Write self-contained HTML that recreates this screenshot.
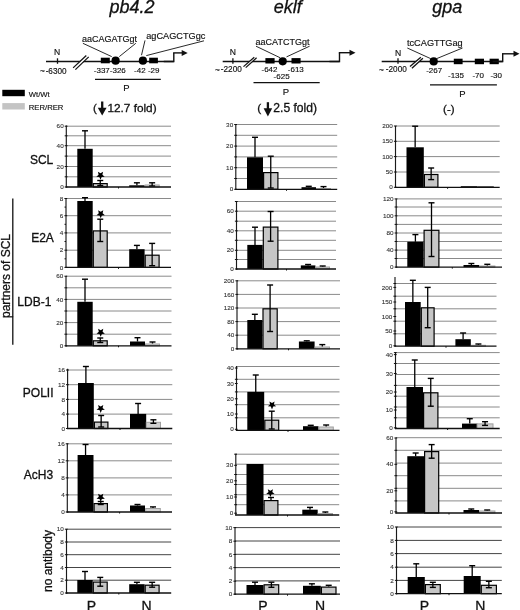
<!DOCTYPE html>
<html><head><meta charset="utf-8"><title>Figure</title>
<style>html,body{margin:0;padding:0;background:#fff;width:520px;height:610px;overflow:hidden;font-family:"Liberation Sans", sans-serif;}svg{display:block;filter:grayscale(1);}</style>
</head><body>
<svg width="520" height="610" viewBox="0 0 520 610" font-family='"Liberation Sans", sans-serif'>
<rect width="520" height="610" fill="#fff"/>
<line x1="66.3" y1="126.2" x2="171" y2="126.2" stroke="#8a8a8a" stroke-width="1.0"/>
<line x1="66.3" y1="135.8" x2="171" y2="135.8" stroke="#8a8a8a" stroke-width="1.0"/>
<line x1="66.3" y1="145.7" x2="171" y2="145.7" stroke="#8a8a8a" stroke-width="1.0"/>
<line x1="66.3" y1="156.1" x2="171" y2="156.1" stroke="#8a8a8a" stroke-width="1.0"/>
<line x1="66.3" y1="166.5" x2="171" y2="166.5" stroke="#8a8a8a" stroke-width="1.0"/>
<line x1="66.3" y1="176.8" x2="171" y2="176.8" stroke="#8a8a8a" stroke-width="1.0"/>
<rect x="77.3" y="148.8" width="15.4" height="38.2" fill="#000"/>
<rect x="93.3" y="183.6" width="13.9" height="3.4" fill="#c6c6c6" stroke="#000" stroke-width="1.2"/>
<rect x="129.2" y="185.3" width="15.4" height="1.7" fill="#000"/>
<rect x="145.1" y="185" width="14.1" height="2" fill="#d0d0d0" stroke="#a0a0a0" stroke-width="1"/>
<line x1="85" y1="130.8" x2="85" y2="148.8" stroke="#000" stroke-width="1.3"/>
<line x1="82" y1="130.8" x2="88" y2="130.8" stroke="#000" stroke-width="1.4"/>
<line x1="100.25" y1="180.5" x2="100.25" y2="185.5" stroke="#000" stroke-width="1.3"/>
<line x1="97.25" y1="180.5" x2="103.25" y2="180.5" stroke="#000" stroke-width="1.4"/>
<line x1="97.25" y1="185.5" x2="103.25" y2="185.5" stroke="#000" stroke-width="1.4"/>
<line x1="136.9" y1="182.8" x2="136.9" y2="185.3" stroke="#000" stroke-width="1.3"/>
<line x1="133.9" y1="182.8" x2="139.9" y2="182.8" stroke="#000" stroke-width="1.4"/>
<line x1="152.15" y1="182.8" x2="152.15" y2="186" stroke="#000" stroke-width="1.3"/>
<line x1="149.15" y1="182.8" x2="155.15" y2="182.8" stroke="#000" stroke-width="1.4"/>
<line x1="149.15" y1="186" x2="155.15" y2="186" stroke="#000" stroke-width="1.4"/>
<polygon points="100.5,179.7 99.32,176.92 96.32,176.66 98.6,174.68 97.91,171.74 100.5,173.3 103.09,171.74 102.4,174.68 104.68,176.66 101.68,176.92" fill="#000"/>
<line x1="66.3" y1="125.5" x2="66.3" y2="187.6" stroke="#1a1a1a" stroke-width="1.15"/>
<line x1="65.7" y1="187" x2="171" y2="187" stroke="#111" stroke-width="1.3"/>
<line x1="64.7" y1="126.2" x2="67.5" y2="126.2" stroke="#111" stroke-width="1"/>
<text transform="translate(63.7,128.3) scale(1.12,1)" font-size="5.7" text-anchor="end" fill="#333" stroke="#333" stroke-width="0.1">60</text>
<line x1="64.7" y1="145.7" x2="67.5" y2="145.7" stroke="#111" stroke-width="1"/>
<text transform="translate(63.7,147.8) scale(1.12,1)" font-size="5.7" text-anchor="end" fill="#333" stroke="#333" stroke-width="0.1">40</text>
<line x1="64.7" y1="166.5" x2="67.5" y2="166.5" stroke="#111" stroke-width="1"/>
<text transform="translate(63.7,168.6) scale(1.12,1)" font-size="5.7" text-anchor="end" fill="#333" stroke="#333" stroke-width="0.1">20</text>
<line x1="64.7" y1="187" x2="67.5" y2="187" stroke="#111" stroke-width="1"/>
<text transform="translate(63.7,189.1) scale(1.12,1)" font-size="5.7" text-anchor="end" fill="#333" stroke="#333" stroke-width="0.1">0</text>
<line x1="64.7" y1="135.8" x2="67.5" y2="135.8" stroke="#111" stroke-width="1"/>
<line x1="64.7" y1="156.1" x2="67.5" y2="156.1" stroke="#111" stroke-width="1"/>
<line x1="64.7" y1="176.8" x2="67.5" y2="176.8" stroke="#111" stroke-width="1"/>
<line x1="118.5" y1="187" x2="118.5" y2="188.5" stroke="#111" stroke-width="1"/>
<line x1="235.8" y1="124.5" x2="337.2" y2="124.5" stroke="#8a8a8a" stroke-width="1.0"/>
<line x1="235.8" y1="135.3" x2="337.2" y2="135.3" stroke="#8a8a8a" stroke-width="1.0"/>
<line x1="235.8" y1="146.1" x2="337.2" y2="146.1" stroke="#8a8a8a" stroke-width="1.0"/>
<line x1="235.8" y1="156.9" x2="337.2" y2="156.9" stroke="#8a8a8a" stroke-width="1.0"/>
<line x1="235.8" y1="167.7" x2="337.2" y2="167.7" stroke="#8a8a8a" stroke-width="1.0"/>
<line x1="235.8" y1="178.5" x2="337.2" y2="178.5" stroke="#8a8a8a" stroke-width="1.0"/>
<rect x="247" y="157.3" width="16" height="32" fill="#000"/>
<rect x="263.6" y="172.6" width="14.3" height="16.7" fill="#c6c6c6" stroke="#000" stroke-width="1.2"/>
<rect x="301.5" y="187.2" width="14.5" height="2.1" fill="#000"/>
<rect x="316.5" y="188.5" width="14" height="0.8" fill="#d0d0d0" stroke="#a0a0a0" stroke-width="1"/>
<line x1="255" y1="137.3" x2="255" y2="157.3" stroke="#000" stroke-width="1.3"/>
<line x1="252" y1="137.3" x2="258" y2="137.3" stroke="#000" stroke-width="1.4"/>
<line x1="270.75" y1="156.2" x2="270.75" y2="188" stroke="#000" stroke-width="1.3"/>
<line x1="267.75" y1="156.2" x2="273.75" y2="156.2" stroke="#000" stroke-width="1.4"/>
<line x1="267.75" y1="188" x2="273.75" y2="188" stroke="#000" stroke-width="1.4"/>
<line x1="308.75" y1="186.3" x2="308.75" y2="187.2" stroke="#000" stroke-width="1.3"/>
<line x1="305.75" y1="186.3" x2="311.75" y2="186.3" stroke="#000" stroke-width="1.4"/>
<line x1="323.5" y1="186.6" x2="323.5" y2="188" stroke="#000" stroke-width="1.3"/>
<line x1="320.5" y1="186.6" x2="326.5" y2="186.6" stroke="#000" stroke-width="1.4"/>
<line x1="235.8" y1="124.5" x2="235.8" y2="189.9" stroke="#1a1a1a" stroke-width="1.15"/>
<line x1="235.2" y1="189.3" x2="337.2" y2="189.3" stroke="#111" stroke-width="1.3"/>
<line x1="234.2" y1="124.5" x2="237" y2="124.5" stroke="#111" stroke-width="1"/>
<text transform="translate(233.2,126.6) scale(1.12,1)" font-size="5.7" text-anchor="end" fill="#333" stroke="#333" stroke-width="0.1">30</text>
<line x1="234.2" y1="146.1" x2="237" y2="146.1" stroke="#111" stroke-width="1"/>
<text transform="translate(233.2,148.2) scale(1.12,1)" font-size="5.7" text-anchor="end" fill="#333" stroke="#333" stroke-width="0.1">20</text>
<line x1="234.2" y1="167.7" x2="237" y2="167.7" stroke="#111" stroke-width="1"/>
<text transform="translate(233.2,169.8) scale(1.12,1)" font-size="5.7" text-anchor="end" fill="#333" stroke="#333" stroke-width="0.1">10</text>
<line x1="234.2" y1="189.3" x2="237" y2="189.3" stroke="#111" stroke-width="1"/>
<text transform="translate(233.2,191.4) scale(1.12,1)" font-size="5.7" text-anchor="end" fill="#333" stroke="#333" stroke-width="0.1">0</text>
<line x1="234.2" y1="135.3" x2="237" y2="135.3" stroke="#111" stroke-width="1"/>
<line x1="234.2" y1="156.9" x2="237" y2="156.9" stroke="#111" stroke-width="1"/>
<line x1="234.2" y1="178.5" x2="237" y2="178.5" stroke="#111" stroke-width="1"/>
<line x1="286.5" y1="189.3" x2="286.5" y2="190.8" stroke="#111" stroke-width="1"/>
<line x1="395.5" y1="126" x2="499.7" y2="126" stroke="#8a8a8a" stroke-width="1.0"/>
<line x1="395.5" y1="141.3" x2="499.7" y2="141.3" stroke="#8a8a8a" stroke-width="1.0"/>
<line x1="395.5" y1="156.6" x2="499.7" y2="156.6" stroke="#8a8a8a" stroke-width="1.0"/>
<line x1="395.5" y1="172" x2="499.7" y2="172" stroke="#8a8a8a" stroke-width="1.0"/>
<rect x="406.5" y="147.3" width="17.3" height="40" fill="#000"/>
<rect x="424.4" y="174.5" width="13.5" height="12.8" fill="#c6c6c6" stroke="#000" stroke-width="1.2"/>
<rect x="460.8" y="186.2" width="16.5" height="1.1" fill="#000"/>
<rect x="477.3" y="186.4" width="16.5" height="0.9" fill="#000"/>
<line x1="415.15" y1="126.2" x2="415.15" y2="147.3" stroke="#000" stroke-width="1.3"/>
<line x1="412.15" y1="126.2" x2="418.15" y2="126.2" stroke="#000" stroke-width="1.4"/>
<line x1="431.15" y1="168" x2="431.15" y2="179.6" stroke="#000" stroke-width="1.3"/>
<line x1="428.15" y1="168" x2="434.15" y2="168" stroke="#000" stroke-width="1.4"/>
<line x1="428.15" y1="179.6" x2="434.15" y2="179.6" stroke="#000" stroke-width="1.4"/>
<line x1="395.5" y1="126" x2="395.5" y2="187.9" stroke="#1a1a1a" stroke-width="1.15"/>
<line x1="394.9" y1="187.3" x2="499.7" y2="187.3" stroke="#111" stroke-width="1.3"/>
<line x1="393.9" y1="126" x2="396.7" y2="126" stroke="#111" stroke-width="1"/>
<text transform="translate(392.9,128.1) scale(1.12,1)" font-size="5.7" text-anchor="end" fill="#333" stroke="#333" stroke-width="0.1">200</text>
<line x1="393.9" y1="141.3" x2="396.7" y2="141.3" stroke="#111" stroke-width="1"/>
<text transform="translate(392.9,143.4) scale(1.12,1)" font-size="5.7" text-anchor="end" fill="#333" stroke="#333" stroke-width="0.1">150</text>
<line x1="393.9" y1="156.6" x2="396.7" y2="156.6" stroke="#111" stroke-width="1"/>
<text transform="translate(392.9,158.7) scale(1.12,1)" font-size="5.7" text-anchor="end" fill="#333" stroke="#333" stroke-width="0.1">100</text>
<line x1="393.9" y1="172" x2="396.7" y2="172" stroke="#111" stroke-width="1"/>
<text transform="translate(392.9,174.1) scale(1.12,1)" font-size="5.7" text-anchor="end" fill="#333" stroke="#333" stroke-width="0.1">50</text>
<line x1="393.9" y1="187.3" x2="396.7" y2="187.3" stroke="#111" stroke-width="1"/>
<text transform="translate(392.9,189.4) scale(1.12,1)" font-size="5.7" text-anchor="end" fill="#333" stroke="#333" stroke-width="0.1">0</text>
<line x1="447.6" y1="187.3" x2="447.6" y2="188.8" stroke="#111" stroke-width="1"/>
<line x1="66" y1="198.5" x2="171" y2="198.5" stroke="#8a8a8a" stroke-width="1.0"/>
<line x1="66" y1="215.7" x2="171" y2="215.7" stroke="#8a8a8a" stroke-width="1.0"/>
<line x1="66" y1="232.9" x2="171" y2="232.9" stroke="#8a8a8a" stroke-width="1.0"/>
<line x1="66" y1="250.2" x2="171" y2="250.2" stroke="#8a8a8a" stroke-width="1.0"/>
<rect x="77.3" y="201" width="15.4" height="66.4" fill="#000"/>
<rect x="93.3" y="230.9" width="13.9" height="36.5" fill="#c6c6c6" stroke="#000" stroke-width="1.2"/>
<rect x="129.2" y="249.2" width="15.4" height="18.2" fill="#000"/>
<rect x="145.2" y="255.2" width="13.9" height="12.2" fill="#c6c6c6" stroke="#000" stroke-width="1.2"/>
<line x1="85" y1="197.7" x2="85" y2="201" stroke="#000" stroke-width="1.3"/>
<line x1="82" y1="197.7" x2="88" y2="197.7" stroke="#000" stroke-width="1.4"/>
<line x1="100.25" y1="219.2" x2="100.25" y2="241.5" stroke="#000" stroke-width="1.3"/>
<line x1="97.25" y1="219.2" x2="103.25" y2="219.2" stroke="#000" stroke-width="1.4"/>
<line x1="97.25" y1="241.5" x2="103.25" y2="241.5" stroke="#000" stroke-width="1.4"/>
<line x1="136.9" y1="245.4" x2="136.9" y2="249.2" stroke="#000" stroke-width="1.3"/>
<line x1="133.9" y1="245.4" x2="139.9" y2="245.4" stroke="#000" stroke-width="1.4"/>
<line x1="152.15" y1="243.4" x2="152.15" y2="265.7" stroke="#000" stroke-width="1.3"/>
<line x1="149.15" y1="243.4" x2="155.15" y2="243.4" stroke="#000" stroke-width="1.4"/>
<line x1="149.15" y1="265.7" x2="155.15" y2="265.7" stroke="#000" stroke-width="1.4"/>
<polygon points="100.7,218.2 99.52,215.42 96.52,215.16 98.8,213.18 98.11,210.24 100.7,211.8 103.29,210.24 102.6,213.18 104.88,215.16 101.88,215.42" fill="#000"/>
<line x1="66" y1="198.5" x2="66" y2="268" stroke="#1a1a1a" stroke-width="1.15"/>
<line x1="65.4" y1="267.4" x2="171" y2="267.4" stroke="#111" stroke-width="1.3"/>
<line x1="64.4" y1="198.5" x2="67.2" y2="198.5" stroke="#111" stroke-width="1"/>
<text transform="translate(63.4,200.6) scale(1.12,1)" font-size="5.7" text-anchor="end" fill="#333" stroke="#333" stroke-width="0.1">8</text>
<line x1="64.4" y1="215.7" x2="67.2" y2="215.7" stroke="#111" stroke-width="1"/>
<text transform="translate(63.4,217.8) scale(1.12,1)" font-size="5.7" text-anchor="end" fill="#333" stroke="#333" stroke-width="0.1">6</text>
<line x1="64.4" y1="232.9" x2="67.2" y2="232.9" stroke="#111" stroke-width="1"/>
<text transform="translate(63.4,235) scale(1.12,1)" font-size="5.7" text-anchor="end" fill="#333" stroke="#333" stroke-width="0.1">4</text>
<line x1="64.4" y1="250.2" x2="67.2" y2="250.2" stroke="#111" stroke-width="1"/>
<text transform="translate(63.4,252.3) scale(1.12,1)" font-size="5.7" text-anchor="end" fill="#333" stroke="#333" stroke-width="0.1">2</text>
<line x1="64.4" y1="267.4" x2="67.2" y2="267.4" stroke="#111" stroke-width="1"/>
<text transform="translate(63.4,269.5) scale(1.12,1)" font-size="5.7" text-anchor="end" fill="#333" stroke="#333" stroke-width="0.1">0</text>
<line x1="64.5" y1="207.1" x2="66" y2="207.1" stroke="#111" stroke-width="1"/>
<line x1="64.5" y1="224.3" x2="66" y2="224.3" stroke="#111" stroke-width="1"/>
<line x1="64.5" y1="241.5" x2="66" y2="241.5" stroke="#111" stroke-width="1"/>
<line x1="64.5" y1="258.8" x2="66" y2="258.8" stroke="#111" stroke-width="1"/>
<line x1="118.5" y1="267.4" x2="118.5" y2="268.9" stroke="#111" stroke-width="1"/>
<line x1="236.5" y1="201.5" x2="336" y2="201.5" stroke="#8a8a8a" stroke-width="1.0"/>
<line x1="236.5" y1="211.2" x2="336" y2="211.2" stroke="#8a8a8a" stroke-width="1.0"/>
<line x1="236.5" y1="221.2" x2="336" y2="221.2" stroke="#8a8a8a" stroke-width="1.0"/>
<line x1="236.5" y1="230.8" x2="336" y2="230.8" stroke="#8a8a8a" stroke-width="1.0"/>
<line x1="236.5" y1="240.3" x2="336" y2="240.3" stroke="#8a8a8a" stroke-width="1.0"/>
<line x1="236.5" y1="250.3" x2="336" y2="250.3" stroke="#8a8a8a" stroke-width="1.0"/>
<line x1="236.5" y1="259.5" x2="336" y2="259.5" stroke="#8a8a8a" stroke-width="1.0"/>
<rect x="247.3" y="244.9" width="15.4" height="24.1" fill="#000"/>
<rect x="263.3" y="227.1" width="14.6" height="41.9" fill="#c6c6c6" stroke="#000" stroke-width="1.2"/>
<rect x="300.8" y="265.4" width="14.6" height="3.6" fill="#000"/>
<rect x="315.9" y="267" width="13.6" height="2" fill="#d0d0d0" stroke="#a0a0a0" stroke-width="1"/>
<line x1="255" y1="227.2" x2="255" y2="244.9" stroke="#000" stroke-width="1.3"/>
<line x1="252" y1="227.2" x2="258" y2="227.2" stroke="#000" stroke-width="1.4"/>
<line x1="270.6" y1="211.5" x2="270.6" y2="241.2" stroke="#000" stroke-width="1.3"/>
<line x1="267.6" y1="211.5" x2="273.6" y2="211.5" stroke="#000" stroke-width="1.4"/>
<line x1="267.6" y1="241.2" x2="273.6" y2="241.2" stroke="#000" stroke-width="1.4"/>
<line x1="308.1" y1="264.5" x2="308.1" y2="265.4" stroke="#000" stroke-width="1.3"/>
<line x1="305.1" y1="264.5" x2="311.1" y2="264.5" stroke="#000" stroke-width="1.4"/>
<line x1="322.7" y1="266" x2="322.7" y2="266.5" stroke="#000" stroke-width="1.3"/>
<line x1="319.7" y1="266" x2="325.7" y2="266" stroke="#000" stroke-width="1.4"/>
<line x1="236.5" y1="201" x2="236.5" y2="269.6" stroke="#1a1a1a" stroke-width="1.15"/>
<line x1="235.9" y1="269" x2="336" y2="269" stroke="#111" stroke-width="1.3"/>
<line x1="234.9" y1="211.2" x2="237.7" y2="211.2" stroke="#111" stroke-width="1"/>
<text transform="translate(233.9,213.3) scale(1.12,1)" font-size="5.7" text-anchor="end" fill="#333" stroke="#333" stroke-width="0.1">60</text>
<line x1="234.9" y1="230.8" x2="237.7" y2="230.8" stroke="#111" stroke-width="1"/>
<text transform="translate(233.9,232.9) scale(1.12,1)" font-size="5.7" text-anchor="end" fill="#333" stroke="#333" stroke-width="0.1">40</text>
<line x1="234.9" y1="250.3" x2="237.7" y2="250.3" stroke="#111" stroke-width="1"/>
<text transform="translate(233.9,252.4) scale(1.12,1)" font-size="5.7" text-anchor="end" fill="#333" stroke="#333" stroke-width="0.1">20</text>
<line x1="234.9" y1="269" x2="237.7" y2="269" stroke="#111" stroke-width="1"/>
<text transform="translate(233.9,271.1) scale(1.12,1)" font-size="5.7" text-anchor="end" fill="#333" stroke="#333" stroke-width="0.1">0</text>
<line x1="234.9" y1="201.5" x2="237.7" y2="201.5" stroke="#111" stroke-width="1"/>
<line x1="234.9" y1="221.2" x2="237.7" y2="221.2" stroke="#111" stroke-width="1"/>
<line x1="234.9" y1="240.3" x2="237.7" y2="240.3" stroke="#111" stroke-width="1"/>
<line x1="234.9" y1="259.5" x2="237.7" y2="259.5" stroke="#111" stroke-width="1"/>
<line x1="286.5" y1="269" x2="286.5" y2="270.5" stroke="#111" stroke-width="1"/>
<line x1="396.2" y1="198.9" x2="502" y2="198.9" stroke="#8a8a8a" stroke-width="1.0"/>
<line x1="396.2" y1="207" x2="502" y2="207" stroke="#8a8a8a" stroke-width="1.0"/>
<line x1="396.2" y1="215.8" x2="502" y2="215.8" stroke="#8a8a8a" stroke-width="1.0"/>
<line x1="396.2" y1="224.4" x2="502" y2="224.4" stroke="#8a8a8a" stroke-width="1.0"/>
<line x1="396.2" y1="233" x2="502" y2="233" stroke="#8a8a8a" stroke-width="1.0"/>
<line x1="396.2" y1="241.5" x2="502" y2="241.5" stroke="#8a8a8a" stroke-width="1.0"/>
<line x1="396.2" y1="250.1" x2="502" y2="250.1" stroke="#8a8a8a" stroke-width="1.0"/>
<line x1="396.2" y1="258.5" x2="502" y2="258.5" stroke="#8a8a8a" stroke-width="1.0"/>
<rect x="407.3" y="241.8" width="16.2" height="25.3" fill="#000"/>
<rect x="424.1" y="230.3" width="14.8" height="36.8" fill="#c6c6c6" stroke="#000" stroke-width="1.2"/>
<rect x="463.5" y="265" width="15.7" height="2.1" fill="#000"/>
<rect x="479.7" y="266" width="15.2" height="1.1" fill="#d0d0d0" stroke="#a0a0a0" stroke-width="1"/>
<line x1="415.4" y1="234.6" x2="415.4" y2="241.8" stroke="#000" stroke-width="1.3"/>
<line x1="412.4" y1="234.6" x2="418.4" y2="234.6" stroke="#000" stroke-width="1.4"/>
<line x1="431.5" y1="202.8" x2="431.5" y2="256.5" stroke="#000" stroke-width="1.3"/>
<line x1="428.5" y1="202.8" x2="434.5" y2="202.8" stroke="#000" stroke-width="1.4"/>
<line x1="428.5" y1="256.5" x2="434.5" y2="256.5" stroke="#000" stroke-width="1.4"/>
<line x1="471.35" y1="263.5" x2="471.35" y2="265" stroke="#000" stroke-width="1.3"/>
<line x1="468.35" y1="263.5" x2="474.35" y2="263.5" stroke="#000" stroke-width="1.4"/>
<line x1="487.3" y1="264.3" x2="487.3" y2="265.5" stroke="#000" stroke-width="1.3"/>
<line x1="484.3" y1="264.3" x2="490.3" y2="264.3" stroke="#000" stroke-width="1.4"/>
<line x1="396.2" y1="198.9" x2="396.2" y2="267.7" stroke="#1a1a1a" stroke-width="1.15"/>
<line x1="395.6" y1="267.1" x2="502" y2="267.1" stroke="#111" stroke-width="1.3"/>
<line x1="394.6" y1="198.9" x2="397.4" y2="198.9" stroke="#111" stroke-width="1"/>
<text transform="translate(393.6,201) scale(1.12,1)" font-size="5.7" text-anchor="end" fill="#333" stroke="#333" stroke-width="0.1">120</text>
<line x1="394.6" y1="215.8" x2="397.4" y2="215.8" stroke="#111" stroke-width="1"/>
<text transform="translate(393.6,217.9) scale(1.12,1)" font-size="5.7" text-anchor="end" fill="#333" stroke="#333" stroke-width="0.1">100</text>
<line x1="394.6" y1="233" x2="397.4" y2="233" stroke="#111" stroke-width="1"/>
<text transform="translate(393.6,235.1) scale(1.12,1)" font-size="5.7" text-anchor="end" fill="#333" stroke="#333" stroke-width="0.1">80</text>
<line x1="394.6" y1="250.1" x2="397.4" y2="250.1" stroke="#111" stroke-width="1"/>
<text transform="translate(393.6,252.2) scale(1.12,1)" font-size="5.7" text-anchor="end" fill="#333" stroke="#333" stroke-width="0.1">40</text>
<line x1="394.6" y1="267.1" x2="397.4" y2="267.1" stroke="#111" stroke-width="1"/>
<text transform="translate(393.6,269.2) scale(1.12,1)" font-size="5.7" text-anchor="end" fill="#333" stroke="#333" stroke-width="0.1">0</text>
<line x1="394.6" y1="207" x2="397.4" y2="207" stroke="#111" stroke-width="1"/>
<line x1="394.6" y1="224.4" x2="397.4" y2="224.4" stroke="#111" stroke-width="1"/>
<line x1="394.6" y1="241.5" x2="397.4" y2="241.5" stroke="#111" stroke-width="1"/>
<line x1="394.6" y1="258.5" x2="397.4" y2="258.5" stroke="#111" stroke-width="1"/>
<line x1="452.3" y1="267.1" x2="452.3" y2="268.6" stroke="#111" stroke-width="1"/>
<line x1="66" y1="276.2" x2="171.5" y2="276.2" stroke="#8a8a8a" stroke-width="1.0"/>
<line x1="66" y1="287.8" x2="171.5" y2="287.8" stroke="#8a8a8a" stroke-width="1.0"/>
<line x1="66" y1="299.4" x2="171.5" y2="299.4" stroke="#8a8a8a" stroke-width="1.0"/>
<line x1="66" y1="311" x2="171.5" y2="311" stroke="#8a8a8a" stroke-width="1.0"/>
<line x1="66" y1="322.6" x2="171.5" y2="322.6" stroke="#8a8a8a" stroke-width="1.0"/>
<line x1="66" y1="334.2" x2="171.5" y2="334.2" stroke="#8a8a8a" stroke-width="1.0"/>
<rect x="77.3" y="301.8" width="15.4" height="44" fill="#000"/>
<rect x="93.3" y="340.8" width="13.9" height="5" fill="#c6c6c6" stroke="#000" stroke-width="1.2"/>
<rect x="130" y="341.5" width="15" height="4.3" fill="#000"/>
<rect x="145.5" y="344" width="14" height="1.8" fill="#d0d0d0" stroke="#a0a0a0" stroke-width="1"/>
<line x1="85" y1="279.2" x2="85" y2="301.8" stroke="#000" stroke-width="1.3"/>
<line x1="82" y1="279.2" x2="88" y2="279.2" stroke="#000" stroke-width="1.4"/>
<line x1="100.25" y1="338" x2="100.25" y2="342.5" stroke="#000" stroke-width="1.3"/>
<line x1="97.25" y1="338" x2="103.25" y2="338" stroke="#000" stroke-width="1.4"/>
<line x1="97.25" y1="342.5" x2="103.25" y2="342.5" stroke="#000" stroke-width="1.4"/>
<line x1="137.5" y1="337.7" x2="137.5" y2="341.5" stroke="#000" stroke-width="1.3"/>
<line x1="134.5" y1="337.7" x2="140.5" y2="337.7" stroke="#000" stroke-width="1.4"/>
<line x1="152.5" y1="342" x2="152.5" y2="343.5" stroke="#000" stroke-width="1.3"/>
<line x1="149.5" y1="342" x2="155.5" y2="342" stroke="#000" stroke-width="1.4"/>
<polygon points="100.7,336.7 99.52,333.92 96.52,333.66 98.8,331.68 98.11,328.74 100.7,330.3 103.29,328.74 102.6,331.68 104.88,333.66 101.88,333.92" fill="#000"/>
<line x1="66" y1="276" x2="66" y2="346.4" stroke="#1a1a1a" stroke-width="1.15"/>
<line x1="65.4" y1="345.8" x2="171.5" y2="345.8" stroke="#111" stroke-width="1.3"/>
<line x1="64.4" y1="276.2" x2="67.2" y2="276.2" stroke="#111" stroke-width="1"/>
<text transform="translate(63.4,278.3) scale(1.12,1)" font-size="5.7" text-anchor="end" fill="#333" stroke="#333" stroke-width="0.1">60</text>
<line x1="64.4" y1="299.4" x2="67.2" y2="299.4" stroke="#111" stroke-width="1"/>
<text transform="translate(63.4,301.5) scale(1.12,1)" font-size="5.7" text-anchor="end" fill="#333" stroke="#333" stroke-width="0.1">40</text>
<line x1="64.4" y1="322.6" x2="67.2" y2="322.6" stroke="#111" stroke-width="1"/>
<text transform="translate(63.4,324.7) scale(1.12,1)" font-size="5.7" text-anchor="end" fill="#333" stroke="#333" stroke-width="0.1">20</text>
<line x1="64.4" y1="345.8" x2="67.2" y2="345.8" stroke="#111" stroke-width="1"/>
<text transform="translate(63.4,347.9) scale(1.12,1)" font-size="5.7" text-anchor="end" fill="#333" stroke="#333" stroke-width="0.1">0</text>
<line x1="64.4" y1="287.8" x2="67.2" y2="287.8" stroke="#111" stroke-width="1"/>
<line x1="64.4" y1="311" x2="67.2" y2="311" stroke="#111" stroke-width="1"/>
<line x1="64.4" y1="334.2" x2="67.2" y2="334.2" stroke="#111" stroke-width="1"/>
<line x1="118.5" y1="345.8" x2="118.5" y2="347.3" stroke="#111" stroke-width="1"/>
<line x1="237" y1="280.8" x2="340" y2="280.8" stroke="#8a8a8a" stroke-width="1.0"/>
<line x1="237" y1="294.4" x2="340" y2="294.4" stroke="#8a8a8a" stroke-width="1.0"/>
<line x1="237" y1="308" x2="340" y2="308" stroke="#8a8a8a" stroke-width="1.0"/>
<line x1="237" y1="321.6" x2="340" y2="321.6" stroke="#8a8a8a" stroke-width="1.0"/>
<line x1="237" y1="335.2" x2="340" y2="335.2" stroke="#8a8a8a" stroke-width="1.0"/>
<rect x="247.3" y="320" width="15.1" height="28.8" fill="#000"/>
<rect x="263" y="308.8" width="14.2" height="40" fill="#c6c6c6" stroke="#000" stroke-width="1.2"/>
<rect x="298.9" y="341.5" width="15.7" height="7.3" fill="#000"/>
<rect x="315.1" y="347" width="14.4" height="1.8" fill="#d0d0d0" stroke="#a0a0a0" stroke-width="1"/>
<line x1="254.85" y1="314.3" x2="254.85" y2="320" stroke="#000" stroke-width="1.3"/>
<line x1="251.85" y1="314.3" x2="257.85" y2="314.3" stroke="#000" stroke-width="1.4"/>
<line x1="270.1" y1="285" x2="270.1" y2="331.5" stroke="#000" stroke-width="1.3"/>
<line x1="267.1" y1="285" x2="273.1" y2="285" stroke="#000" stroke-width="1.4"/>
<line x1="267.1" y1="331.5" x2="273.1" y2="331.5" stroke="#000" stroke-width="1.4"/>
<line x1="306.75" y1="340.8" x2="306.75" y2="341.5" stroke="#000" stroke-width="1.3"/>
<line x1="303.75" y1="340.8" x2="309.75" y2="340.8" stroke="#000" stroke-width="1.4"/>
<line x1="322.3" y1="344.6" x2="322.3" y2="346.5" stroke="#000" stroke-width="1.3"/>
<line x1="319.3" y1="344.6" x2="325.3" y2="344.6" stroke="#000" stroke-width="1.4"/>
<line x1="237" y1="280.5" x2="237" y2="349.4" stroke="#1a1a1a" stroke-width="1.15"/>
<line x1="236.4" y1="348.8" x2="340" y2="348.8" stroke="#111" stroke-width="1.3"/>
<line x1="235.4" y1="280.8" x2="238.2" y2="280.8" stroke="#111" stroke-width="1"/>
<text transform="translate(234.4,282.9) scale(1.12,1)" font-size="5.7" text-anchor="end" fill="#333" stroke="#333" stroke-width="0.1">200</text>
<line x1="235.4" y1="294.4" x2="238.2" y2="294.4" stroke="#111" stroke-width="1"/>
<text transform="translate(234.4,296.5) scale(1.12,1)" font-size="5.7" text-anchor="end" fill="#333" stroke="#333" stroke-width="0.1">160</text>
<line x1="235.4" y1="308" x2="238.2" y2="308" stroke="#111" stroke-width="1"/>
<text transform="translate(234.4,310.1) scale(1.12,1)" font-size="5.7" text-anchor="end" fill="#333" stroke="#333" stroke-width="0.1">120</text>
<line x1="235.4" y1="321.6" x2="238.2" y2="321.6" stroke="#111" stroke-width="1"/>
<text transform="translate(234.4,323.7) scale(1.12,1)" font-size="5.7" text-anchor="end" fill="#333" stroke="#333" stroke-width="0.1">80</text>
<line x1="235.4" y1="335.2" x2="238.2" y2="335.2" stroke="#111" stroke-width="1"/>
<text transform="translate(234.4,337.3) scale(1.12,1)" font-size="5.7" text-anchor="end" fill="#333" stroke="#333" stroke-width="0.1">40</text>
<line x1="235.4" y1="348.8" x2="238.2" y2="348.8" stroke="#111" stroke-width="1"/>
<text transform="translate(234.4,350.9) scale(1.12,1)" font-size="5.7" text-anchor="end" fill="#333" stroke="#333" stroke-width="0.1">0</text>
<line x1="288.5" y1="348.8" x2="288.5" y2="350.3" stroke="#111" stroke-width="1"/>
<line x1="395" y1="283.5" x2="496.5" y2="283.5" stroke="#8a8a8a" stroke-width="1.0"/>
<line x1="395" y1="296.2" x2="496.5" y2="296.2" stroke="#8a8a8a" stroke-width="1.0"/>
<line x1="395" y1="308.8" x2="496.5" y2="308.8" stroke="#8a8a8a" stroke-width="1.0"/>
<line x1="395" y1="321.2" x2="496.5" y2="321.2" stroke="#8a8a8a" stroke-width="1.0"/>
<line x1="395" y1="333.8" x2="496.5" y2="333.8" stroke="#8a8a8a" stroke-width="1.0"/>
<rect x="405" y="302" width="15.7" height="44.2" fill="#000"/>
<rect x="421.3" y="307.8" width="12.8" height="38.4" fill="#c6c6c6" stroke="#000" stroke-width="1.2"/>
<rect x="455.4" y="339.2" width="15.4" height="7" fill="#000"/>
<rect x="471.3" y="345.3" width="14.2" height="0.9" fill="#d0d0d0" stroke="#a0a0a0" stroke-width="1"/>
<line x1="412.85" y1="280.3" x2="412.85" y2="302" stroke="#000" stroke-width="1.3"/>
<line x1="409.85" y1="280.3" x2="415.85" y2="280.3" stroke="#000" stroke-width="1.4"/>
<line x1="427.7" y1="287.4" x2="427.7" y2="327.7" stroke="#000" stroke-width="1.3"/>
<line x1="424.7" y1="287.4" x2="430.7" y2="287.4" stroke="#000" stroke-width="1.4"/>
<line x1="424.7" y1="327.7" x2="430.7" y2="327.7" stroke="#000" stroke-width="1.4"/>
<line x1="463.1" y1="333" x2="463.1" y2="339.2" stroke="#000" stroke-width="1.3"/>
<line x1="460.1" y1="333" x2="466.1" y2="333" stroke="#000" stroke-width="1.4"/>
<line x1="478.4" y1="344" x2="478.4" y2="344.8" stroke="#000" stroke-width="1.3"/>
<line x1="475.4" y1="344" x2="481.4" y2="344" stroke="#000" stroke-width="1.4"/>
<line x1="395" y1="277" x2="395" y2="346.8" stroke="#1a1a1a" stroke-width="1.15"/>
<line x1="394.4" y1="346.2" x2="496.5" y2="346.2" stroke="#111" stroke-width="1.3"/>
<line x1="393.4" y1="287.4" x2="396.2" y2="287.4" stroke="#111" stroke-width="1"/>
<text transform="translate(392.4,289.5) scale(1.12,1)" font-size="5.7" text-anchor="end" fill="#333" stroke="#333" stroke-width="0.1">200</text>
<line x1="393.4" y1="302" x2="396.2" y2="302" stroke="#111" stroke-width="1"/>
<text transform="translate(392.4,304.1) scale(1.12,1)" font-size="5.7" text-anchor="end" fill="#333" stroke="#333" stroke-width="0.1">150</text>
<line x1="393.4" y1="316.5" x2="396.2" y2="316.5" stroke="#111" stroke-width="1"/>
<text transform="translate(392.4,318.6) scale(1.12,1)" font-size="5.7" text-anchor="end" fill="#333" stroke="#333" stroke-width="0.1">100</text>
<line x1="393.4" y1="331" x2="396.2" y2="331" stroke="#111" stroke-width="1"/>
<text transform="translate(392.4,333.1) scale(1.12,1)" font-size="5.7" text-anchor="end" fill="#333" stroke="#333" stroke-width="0.1">50</text>
<line x1="393.4" y1="345.8" x2="396.2" y2="345.8" stroke="#111" stroke-width="1"/>
<text transform="translate(392.4,347.9) scale(1.12,1)" font-size="5.7" text-anchor="end" fill="#333" stroke="#333" stroke-width="0.1">0</text>
<line x1="393.4" y1="283.5" x2="396.2" y2="283.5" stroke="#111" stroke-width="1"/>
<line x1="393.4" y1="296.2" x2="396.2" y2="296.2" stroke="#111" stroke-width="1"/>
<line x1="393.4" y1="308.8" x2="396.2" y2="308.8" stroke="#111" stroke-width="1"/>
<line x1="393.4" y1="321.2" x2="396.2" y2="321.2" stroke="#111" stroke-width="1"/>
<line x1="393.4" y1="333.8" x2="396.2" y2="333.8" stroke="#111" stroke-width="1"/>
<line x1="446" y1="346.2" x2="446" y2="347.7" stroke="#111" stroke-width="1"/>
<line x1="67.6" y1="370" x2="172.3" y2="370" stroke="#8a8a8a" stroke-width="1.0"/>
<line x1="67.6" y1="384.7" x2="172.3" y2="384.7" stroke="#8a8a8a" stroke-width="1.0"/>
<line x1="67.6" y1="399.4" x2="172.3" y2="399.4" stroke="#8a8a8a" stroke-width="1.0"/>
<line x1="67.6" y1="414.1" x2="172.3" y2="414.1" stroke="#8a8a8a" stroke-width="1.0"/>
<rect x="78" y="383" width="15.8" height="45.5" fill="#000"/>
<rect x="94.4" y="422.1" width="13.5" height="6.4" fill="#c6c6c6" stroke="#000" stroke-width="1.2"/>
<rect x="130" y="413.9" width="16.2" height="14.6" fill="#000"/>
<rect x="146.3" y="422.3" width="14.2" height="6.2" fill="#d0d0d0" stroke="#a0a0a0" stroke-width="1"/>
<line x1="85.9" y1="366.5" x2="85.9" y2="383" stroke="#000" stroke-width="1.3"/>
<line x1="82.9" y1="366.5" x2="88.9" y2="366.5" stroke="#000" stroke-width="1.4"/>
<line x1="101.15" y1="415.5" x2="101.15" y2="427" stroke="#000" stroke-width="1.3"/>
<line x1="98.15" y1="415.5" x2="104.15" y2="415.5" stroke="#000" stroke-width="1.4"/>
<line x1="98.15" y1="427" x2="104.15" y2="427" stroke="#000" stroke-width="1.4"/>
<line x1="138.1" y1="403.5" x2="138.1" y2="413.9" stroke="#000" stroke-width="1.3"/>
<line x1="135.1" y1="403.5" x2="141.1" y2="403.5" stroke="#000" stroke-width="1.4"/>
<line x1="153.4" y1="419.8" x2="153.4" y2="423.3" stroke="#000" stroke-width="1.3"/>
<line x1="150.4" y1="419.8" x2="156.4" y2="419.8" stroke="#000" stroke-width="1.4"/>
<line x1="150.4" y1="423.3" x2="156.4" y2="423.3" stroke="#000" stroke-width="1.4"/>
<polygon points="100.7,412.9 99.52,410.12 96.52,409.86 98.8,407.88 98.11,404.94 100.7,406.5 103.29,404.94 102.6,407.88 104.88,409.86 101.88,410.12" fill="#000"/>
<line x1="67.6" y1="368.8" x2="67.6" y2="429.1" stroke="#1a1a1a" stroke-width="1.15"/>
<line x1="67" y1="428.5" x2="172.3" y2="428.5" stroke="#111" stroke-width="1.3"/>
<line x1="66" y1="370" x2="68.8" y2="370" stroke="#111" stroke-width="1"/>
<text transform="translate(65,372.1) scale(1.12,1)" font-size="5.7" text-anchor="end" fill="#333" stroke="#333" stroke-width="0.1">16</text>
<line x1="66" y1="384.7" x2="68.8" y2="384.7" stroke="#111" stroke-width="1"/>
<text transform="translate(65,386.8) scale(1.12,1)" font-size="5.7" text-anchor="end" fill="#333" stroke="#333" stroke-width="0.1">12</text>
<line x1="66" y1="399.4" x2="68.8" y2="399.4" stroke="#111" stroke-width="1"/>
<text transform="translate(65,401.5) scale(1.12,1)" font-size="5.7" text-anchor="end" fill="#333" stroke="#333" stroke-width="0.1">8</text>
<line x1="66" y1="414.1" x2="68.8" y2="414.1" stroke="#111" stroke-width="1"/>
<text transform="translate(65,416.2) scale(1.12,1)" font-size="5.7" text-anchor="end" fill="#333" stroke="#333" stroke-width="0.1">4</text>
<line x1="66" y1="428.5" x2="68.8" y2="428.5" stroke="#111" stroke-width="1"/>
<text transform="translate(65,430.6) scale(1.12,1)" font-size="5.7" text-anchor="end" fill="#333" stroke="#333" stroke-width="0.1">0</text>
<line x1="120" y1="428.5" x2="120" y2="430" stroke="#111" stroke-width="1"/>
<line x1="236.5" y1="366.5" x2="339.5" y2="366.5" stroke="#8a8a8a" stroke-width="1.0"/>
<line x1="236.5" y1="379.3" x2="339.5" y2="379.3" stroke="#8a8a8a" stroke-width="1.0"/>
<line x1="236.5" y1="391.9" x2="339.5" y2="391.9" stroke="#8a8a8a" stroke-width="1.0"/>
<line x1="236.5" y1="404.7" x2="339.5" y2="404.7" stroke="#8a8a8a" stroke-width="1.0"/>
<line x1="236.5" y1="417.8" x2="339.5" y2="417.8" stroke="#8a8a8a" stroke-width="1.0"/>
<rect x="247.3" y="391.9" width="16.9" height="38.5" fill="#000"/>
<rect x="264.8" y="420.2" width="13.9" height="10.2" fill="#c6c6c6" stroke="#000" stroke-width="1.2"/>
<rect x="303" y="426.2" width="15.5" height="4.2" fill="#000"/>
<rect x="319" y="427" width="14.3" height="3.4" fill="#d0d0d0" stroke="#a0a0a0" stroke-width="1"/>
<line x1="255.75" y1="375" x2="255.75" y2="391.9" stroke="#000" stroke-width="1.3"/>
<line x1="252.75" y1="375" x2="258.75" y2="375" stroke="#000" stroke-width="1.4"/>
<line x1="271.75" y1="411.2" x2="271.75" y2="429" stroke="#000" stroke-width="1.3"/>
<line x1="268.75" y1="411.2" x2="274.75" y2="411.2" stroke="#000" stroke-width="1.4"/>
<line x1="268.75" y1="429" x2="274.75" y2="429" stroke="#000" stroke-width="1.4"/>
<line x1="310.75" y1="425.3" x2="310.75" y2="426.2" stroke="#000" stroke-width="1.3"/>
<line x1="307.75" y1="425.3" x2="313.75" y2="425.3" stroke="#000" stroke-width="1.4"/>
<line x1="326.15" y1="425" x2="326.15" y2="426.5" stroke="#000" stroke-width="1.3"/>
<line x1="323.15" y1="425" x2="329.15" y2="425" stroke="#000" stroke-width="1.4"/>
<polygon points="272,409.4 270.82,406.62 267.82,406.36 270.1,404.38 269.41,401.44 272,403 274.59,401.44 273.9,404.38 276.18,406.36 273.18,406.62" fill="#000"/>
<line x1="236.5" y1="366" x2="236.5" y2="431" stroke="#1a1a1a" stroke-width="1.15"/>
<line x1="235.9" y1="430.4" x2="339.5" y2="430.4" stroke="#111" stroke-width="1.3"/>
<line x1="234.9" y1="368" x2="237.7" y2="368" stroke="#111" stroke-width="1"/>
<text transform="translate(233.9,370.1) scale(1.12,1)" font-size="5.7" text-anchor="end" fill="#333" stroke="#333" stroke-width="0.1">40</text>
<line x1="234.9" y1="383.5" x2="237.7" y2="383.5" stroke="#111" stroke-width="1"/>
<text transform="translate(233.9,385.6) scale(1.12,1)" font-size="5.7" text-anchor="end" fill="#333" stroke="#333" stroke-width="0.1">30</text>
<line x1="234.9" y1="398.8" x2="237.7" y2="398.8" stroke="#111" stroke-width="1"/>
<text transform="translate(233.9,400.9) scale(1.12,1)" font-size="5.7" text-anchor="end" fill="#333" stroke="#333" stroke-width="0.1">20</text>
<line x1="234.9" y1="414" x2="237.7" y2="414" stroke="#111" stroke-width="1"/>
<text transform="translate(233.9,416.1) scale(1.12,1)" font-size="5.7" text-anchor="end" fill="#333" stroke="#333" stroke-width="0.1">10</text>
<line x1="234.9" y1="429.3" x2="237.7" y2="429.3" stroke="#111" stroke-width="1"/>
<text transform="translate(233.9,431.4) scale(1.12,1)" font-size="5.7" text-anchor="end" fill="#333" stroke="#333" stroke-width="0.1">0</text>
<line x1="234.9" y1="379.3" x2="237.7" y2="379.3" stroke="#111" stroke-width="1"/>
<line x1="234.9" y1="391.9" x2="237.7" y2="391.9" stroke="#111" stroke-width="1"/>
<line x1="234.9" y1="404.7" x2="237.7" y2="404.7" stroke="#111" stroke-width="1"/>
<line x1="234.9" y1="417.8" x2="237.7" y2="417.8" stroke="#111" stroke-width="1"/>
<line x1="288" y1="430.4" x2="288" y2="431.9" stroke="#111" stroke-width="1"/>
<line x1="395.5" y1="352.6" x2="499.7" y2="352.6" stroke="#8a8a8a" stroke-width="1.0"/>
<line x1="395.5" y1="363.5" x2="499.7" y2="363.5" stroke="#8a8a8a" stroke-width="1.0"/>
<line x1="395.5" y1="374.5" x2="499.7" y2="374.5" stroke="#8a8a8a" stroke-width="1.0"/>
<line x1="395.5" y1="385.4" x2="499.7" y2="385.4" stroke="#8a8a8a" stroke-width="1.0"/>
<line x1="395.5" y1="396.2" x2="499.7" y2="396.2" stroke="#8a8a8a" stroke-width="1.0"/>
<line x1="395.5" y1="407" x2="499.7" y2="407" stroke="#8a8a8a" stroke-width="1.0"/>
<line x1="395.5" y1="417.8" x2="499.7" y2="417.8" stroke="#8a8a8a" stroke-width="1.0"/>
<rect x="406.5" y="387" width="16.5" height="41.5" fill="#000"/>
<rect x="423.6" y="392.8" width="14.3" height="35.7" fill="#c6c6c6" stroke="#000" stroke-width="1.2"/>
<rect x="462" y="423.6" width="15.5" height="4.9" fill="#000"/>
<rect x="477.1" y="423.9" width="15.9" height="4.6" fill="#d0d0d0" stroke="#a0a0a0" stroke-width="1"/>
<line x1="414.75" y1="360" x2="414.75" y2="387" stroke="#000" stroke-width="1.3"/>
<line x1="411.75" y1="360" x2="417.75" y2="360" stroke="#000" stroke-width="1.4"/>
<line x1="430.75" y1="378.4" x2="430.75" y2="406.2" stroke="#000" stroke-width="1.3"/>
<line x1="427.75" y1="378.4" x2="433.75" y2="378.4" stroke="#000" stroke-width="1.4"/>
<line x1="427.75" y1="406.2" x2="433.75" y2="406.2" stroke="#000" stroke-width="1.4"/>
<line x1="469.75" y1="418.7" x2="469.75" y2="423.6" stroke="#000" stroke-width="1.3"/>
<line x1="466.75" y1="418.7" x2="472.75" y2="418.7" stroke="#000" stroke-width="1.4"/>
<line x1="485.05" y1="421.7" x2="485.05" y2="425.4" stroke="#000" stroke-width="1.3"/>
<line x1="482.05" y1="421.7" x2="488.05" y2="421.7" stroke="#000" stroke-width="1.4"/>
<line x1="482.05" y1="425.4" x2="488.05" y2="425.4" stroke="#000" stroke-width="1.4"/>
<line x1="395.5" y1="352" x2="395.5" y2="429.1" stroke="#1a1a1a" stroke-width="1.15"/>
<line x1="394.9" y1="428.5" x2="499.7" y2="428.5" stroke="#111" stroke-width="1.3"/>
<line x1="393.9" y1="354.6" x2="396.7" y2="354.6" stroke="#111" stroke-width="1"/>
<text transform="translate(392.9,356.7) scale(1.12,1)" font-size="5.7" text-anchor="end" fill="#333" stroke="#333" stroke-width="0.1">40</text>
<line x1="393.9" y1="373.5" x2="396.7" y2="373.5" stroke="#111" stroke-width="1"/>
<text transform="translate(392.9,375.6) scale(1.12,1)" font-size="5.7" text-anchor="end" fill="#333" stroke="#333" stroke-width="0.1">30</text>
<line x1="393.9" y1="392" x2="396.7" y2="392" stroke="#111" stroke-width="1"/>
<text transform="translate(392.9,394.1) scale(1.12,1)" font-size="5.7" text-anchor="end" fill="#333" stroke="#333" stroke-width="0.1">20</text>
<line x1="393.9" y1="410" x2="396.7" y2="410" stroke="#111" stroke-width="1"/>
<text transform="translate(392.9,412.1) scale(1.12,1)" font-size="5.7" text-anchor="end" fill="#333" stroke="#333" stroke-width="0.1">10</text>
<line x1="393.9" y1="427.8" x2="396.7" y2="427.8" stroke="#111" stroke-width="1"/>
<text transform="translate(392.9,429.9) scale(1.12,1)" font-size="5.7" text-anchor="end" fill="#333" stroke="#333" stroke-width="0.1">0</text>
<line x1="393.9" y1="352.6" x2="396.7" y2="352.6" stroke="#111" stroke-width="1"/>
<line x1="393.9" y1="363.5" x2="396.7" y2="363.5" stroke="#111" stroke-width="1"/>
<line x1="393.9" y1="385.4" x2="396.7" y2="385.4" stroke="#111" stroke-width="1"/>
<line x1="393.9" y1="396.2" x2="396.7" y2="396.2" stroke="#111" stroke-width="1"/>
<line x1="393.9" y1="407" x2="396.7" y2="407" stroke="#111" stroke-width="1"/>
<line x1="393.9" y1="417.8" x2="396.7" y2="417.8" stroke="#111" stroke-width="1"/>
<line x1="447.6" y1="428.5" x2="447.6" y2="430" stroke="#111" stroke-width="1"/>
<line x1="67.3" y1="443.8" x2="172" y2="443.8" stroke="#8a8a8a" stroke-width="1.0"/>
<line x1="67.3" y1="460.8" x2="172" y2="460.8" stroke="#8a8a8a" stroke-width="1.0"/>
<line x1="67.3" y1="477.9" x2="172" y2="477.9" stroke="#8a8a8a" stroke-width="1.0"/>
<line x1="67.3" y1="494.9" x2="172" y2="494.9" stroke="#8a8a8a" stroke-width="1.0"/>
<rect x="77.6" y="455" width="15.9" height="57" fill="#000"/>
<rect x="94.1" y="503.6" width="13.3" height="8.4" fill="#c6c6c6" stroke="#000" stroke-width="1.2"/>
<rect x="130" y="505.5" width="15" height="6.5" fill="#000"/>
<rect x="145.7" y="508.5" width="14.6" height="3.5" fill="#d0d0d0" stroke="#a0a0a0" stroke-width="1"/>
<line x1="85.55" y1="444.5" x2="85.55" y2="455" stroke="#000" stroke-width="1.3"/>
<line x1="82.55" y1="444.5" x2="88.55" y2="444.5" stroke="#000" stroke-width="1.4"/>
<line x1="100.75" y1="501.5" x2="100.75" y2="504.5" stroke="#000" stroke-width="1.3"/>
<line x1="97.75" y1="501.5" x2="103.75" y2="501.5" stroke="#000" stroke-width="1.4"/>
<line x1="97.75" y1="504.5" x2="103.75" y2="504.5" stroke="#000" stroke-width="1.4"/>
<line x1="137.5" y1="504.5" x2="137.5" y2="505.5" stroke="#000" stroke-width="1.3"/>
<line x1="134.5" y1="504.5" x2="140.5" y2="504.5" stroke="#000" stroke-width="1.4"/>
<line x1="153" y1="506.9" x2="153" y2="508" stroke="#000" stroke-width="1.3"/>
<line x1="150" y1="506.9" x2="156" y2="506.9" stroke="#000" stroke-width="1.4"/>
<polygon points="100.7,501.7 99.52,498.92 96.52,498.66 98.8,496.68 98.11,493.74 100.7,495.3 103.29,493.74 102.6,496.68 104.88,498.66 101.88,498.92" fill="#000"/>
<line x1="67.3" y1="443.5" x2="67.3" y2="512.6" stroke="#1a1a1a" stroke-width="1.15"/>
<line x1="66.7" y1="512" x2="172" y2="512" stroke="#111" stroke-width="1.3"/>
<line x1="65.7" y1="443.8" x2="68.5" y2="443.8" stroke="#111" stroke-width="1"/>
<text transform="translate(64.7,445.9) scale(1.12,1)" font-size="5.7" text-anchor="end" fill="#333" stroke="#333" stroke-width="0.1">16</text>
<line x1="65.7" y1="460.8" x2="68.5" y2="460.8" stroke="#111" stroke-width="1"/>
<text transform="translate(64.7,462.9) scale(1.12,1)" font-size="5.7" text-anchor="end" fill="#333" stroke="#333" stroke-width="0.1">12</text>
<line x1="65.7" y1="477.9" x2="68.5" y2="477.9" stroke="#111" stroke-width="1"/>
<text transform="translate(64.7,480) scale(1.12,1)" font-size="5.7" text-anchor="end" fill="#333" stroke="#333" stroke-width="0.1">8</text>
<line x1="65.7" y1="494.9" x2="68.5" y2="494.9" stroke="#111" stroke-width="1"/>
<text transform="translate(64.7,497) scale(1.12,1)" font-size="5.7" text-anchor="end" fill="#333" stroke="#333" stroke-width="0.1">4</text>
<line x1="65.7" y1="512" x2="68.5" y2="512" stroke="#111" stroke-width="1"/>
<text transform="translate(64.7,514.1) scale(1.12,1)" font-size="5.7" text-anchor="end" fill="#333" stroke="#333" stroke-width="0.1">0</text>
<line x1="119.6" y1="512" x2="119.6" y2="513.5" stroke="#111" stroke-width="1"/>
<line x1="235.8" y1="454.2" x2="339.2" y2="454.2" stroke="#8a8a8a" stroke-width="1.0"/>
<line x1="235.8" y1="464.2" x2="339.2" y2="464.2" stroke="#8a8a8a" stroke-width="1.0"/>
<line x1="235.8" y1="474.5" x2="339.2" y2="474.5" stroke="#8a8a8a" stroke-width="1.0"/>
<line x1="235.8" y1="484.5" x2="339.2" y2="484.5" stroke="#8a8a8a" stroke-width="1.0"/>
<line x1="235.8" y1="494.7" x2="339.2" y2="494.7" stroke="#8a8a8a" stroke-width="1.0"/>
<line x1="235.8" y1="504.7" x2="339.2" y2="504.7" stroke="#8a8a8a" stroke-width="1.0"/>
<rect x="246.5" y="464" width="17" height="51" fill="#000"/>
<rect x="264.1" y="500.6" width="13.8" height="14.4" fill="#c6c6c6" stroke="#000" stroke-width="1.2"/>
<rect x="302.3" y="509.7" width="15.4" height="5.3" fill="#000"/>
<rect x="318.2" y="513.5" width="14.3" height="1.5" fill="#d0d0d0" stroke="#a0a0a0" stroke-width="1"/>
<line x1="271" y1="497.5" x2="271" y2="500" stroke="#000" stroke-width="1.3"/>
<line x1="268" y1="497.5" x2="274" y2="497.5" stroke="#000" stroke-width="1.4"/>
<line x1="310" y1="507.4" x2="310" y2="509.7" stroke="#000" stroke-width="1.3"/>
<line x1="307" y1="507.4" x2="313" y2="507.4" stroke="#000" stroke-width="1.4"/>
<line x1="325.35" y1="512" x2="325.35" y2="513" stroke="#000" stroke-width="1.3"/>
<line x1="322.35" y1="512" x2="328.35" y2="512" stroke="#000" stroke-width="1.4"/>
<polygon points="270.4,497.1 269.22,494.32 266.22,494.06 268.5,492.08 267.81,489.14 270.4,490.7 272.99,489.14 272.3,492.08 274.58,494.06 271.58,494.32" fill="#000"/>
<line x1="235.8" y1="453.8" x2="235.8" y2="515.6" stroke="#1a1a1a" stroke-width="1.15"/>
<line x1="235.2" y1="515" x2="339.2" y2="515" stroke="#111" stroke-width="1.3"/>
<line x1="234.2" y1="465.3" x2="237" y2="465.3" stroke="#111" stroke-width="1"/>
<text transform="translate(233.2,467.4) scale(1.12,1)" font-size="5.7" text-anchor="end" fill="#333" stroke="#333" stroke-width="0.1">30</text>
<line x1="234.2" y1="480.8" x2="237" y2="480.8" stroke="#111" stroke-width="1"/>
<text transform="translate(233.2,482.9) scale(1.12,1)" font-size="5.7" text-anchor="end" fill="#333" stroke="#333" stroke-width="0.1">20</text>
<line x1="234.2" y1="497" x2="237" y2="497" stroke="#111" stroke-width="1"/>
<text transform="translate(233.2,499.1) scale(1.12,1)" font-size="5.7" text-anchor="end" fill="#333" stroke="#333" stroke-width="0.1">10</text>
<line x1="234.2" y1="513.2" x2="237" y2="513.2" stroke="#111" stroke-width="1"/>
<text transform="translate(233.2,515.3) scale(1.12,1)" font-size="5.7" text-anchor="end" fill="#333" stroke="#333" stroke-width="0.1">0</text>
<line x1="234.2" y1="454.2" x2="237" y2="454.2" stroke="#111" stroke-width="1"/>
<line x1="234.2" y1="474.5" x2="237" y2="474.5" stroke="#111" stroke-width="1"/>
<line x1="234.2" y1="484.5" x2="237" y2="484.5" stroke="#111" stroke-width="1"/>
<line x1="234.2" y1="494.7" x2="237" y2="494.7" stroke="#111" stroke-width="1"/>
<line x1="234.2" y1="504.7" x2="237" y2="504.7" stroke="#111" stroke-width="1"/>
<line x1="287.5" y1="515" x2="287.5" y2="516.5" stroke="#111" stroke-width="1"/>
<line x1="396" y1="437.7" x2="502" y2="437.7" stroke="#8a8a8a" stroke-width="1.0"/>
<line x1="396" y1="450.3" x2="502" y2="450.3" stroke="#8a8a8a" stroke-width="1.0"/>
<line x1="396" y1="463.1" x2="502" y2="463.1" stroke="#8a8a8a" stroke-width="1.0"/>
<line x1="396" y1="475.7" x2="502" y2="475.7" stroke="#8a8a8a" stroke-width="1.0"/>
<line x1="396" y1="488.3" x2="502" y2="488.3" stroke="#8a8a8a" stroke-width="1.0"/>
<line x1="396" y1="500.9" x2="502" y2="500.9" stroke="#8a8a8a" stroke-width="1.0"/>
<rect x="407.3" y="456.2" width="16.7" height="56.8" fill="#000"/>
<rect x="424.6" y="451.6" width="14.1" height="61.4" fill="#c6c6c6" stroke="#000" stroke-width="1.2"/>
<rect x="463.5" y="510" width="15.5" height="3" fill="#000"/>
<rect x="479.5" y="511" width="15.4" height="2" fill="#d0d0d0" stroke="#a0a0a0" stroke-width="1"/>
<line x1="415.65" y1="453" x2="415.65" y2="456.2" stroke="#000" stroke-width="1.3"/>
<line x1="412.65" y1="453" x2="418.65" y2="453" stroke="#000" stroke-width="1.4"/>
<line x1="431.65" y1="444.6" x2="431.65" y2="458.2" stroke="#000" stroke-width="1.3"/>
<line x1="428.65" y1="444.6" x2="434.65" y2="444.6" stroke="#000" stroke-width="1.4"/>
<line x1="428.65" y1="458.2" x2="434.65" y2="458.2" stroke="#000" stroke-width="1.4"/>
<line x1="471.25" y1="509" x2="471.25" y2="510" stroke="#000" stroke-width="1.3"/>
<line x1="468.25" y1="509" x2="474.25" y2="509" stroke="#000" stroke-width="1.4"/>
<line x1="487.2" y1="510" x2="487.2" y2="510.5" stroke="#000" stroke-width="1.3"/>
<line x1="484.2" y1="510" x2="490.2" y2="510" stroke="#000" stroke-width="1.4"/>
<line x1="396" y1="437.5" x2="396" y2="513.6" stroke="#1a1a1a" stroke-width="1.15"/>
<line x1="395.4" y1="513" x2="502" y2="513" stroke="#111" stroke-width="1.3"/>
<line x1="394.4" y1="438" x2="397.2" y2="438" stroke="#111" stroke-width="1"/>
<text transform="translate(393.4,440.1) scale(1.12,1)" font-size="5.7" text-anchor="end" fill="#333" stroke="#333" stroke-width="0.1">60</text>
<line x1="394.4" y1="464.3" x2="397.2" y2="464.3" stroke="#111" stroke-width="1"/>
<text transform="translate(393.4,466.4) scale(1.12,1)" font-size="5.7" text-anchor="end" fill="#333" stroke="#333" stroke-width="0.1">40</text>
<line x1="394.4" y1="490.8" x2="397.2" y2="490.8" stroke="#111" stroke-width="1"/>
<text transform="translate(393.4,492.9) scale(1.12,1)" font-size="5.7" text-anchor="end" fill="#333" stroke="#333" stroke-width="0.1">20</text>
<line x1="394.4" y1="511.8" x2="397.2" y2="511.8" stroke="#111" stroke-width="1"/>
<text transform="translate(393.4,513.9) scale(1.12,1)" font-size="5.7" text-anchor="end" fill="#333" stroke="#333" stroke-width="0.1">0</text>
<line x1="394.4" y1="450.3" x2="397.2" y2="450.3" stroke="#111" stroke-width="1"/>
<line x1="394.4" y1="475.7" x2="397.2" y2="475.7" stroke="#111" stroke-width="1"/>
<line x1="394.4" y1="488.3" x2="397.2" y2="488.3" stroke="#111" stroke-width="1"/>
<line x1="394.4" y1="500.9" x2="397.2" y2="500.9" stroke="#111" stroke-width="1"/>
<line x1="449" y1="513" x2="449" y2="514.5" stroke="#111" stroke-width="1"/>
<line x1="66.5" y1="529.2" x2="171.2" y2="529.2" stroke="#444" stroke-width="1.0"/>
<line x1="66.5" y1="542" x2="171.2" y2="542" stroke="#444" stroke-width="1.0"/>
<line x1="66.5" y1="554.7" x2="171.2" y2="554.7" stroke="#444" stroke-width="1.0"/>
<line x1="66.5" y1="567.5" x2="171.2" y2="567.5" stroke="#444" stroke-width="1.0"/>
<line x1="66.5" y1="580.2" x2="171.2" y2="580.2" stroke="#444" stroke-width="1.0"/>
<rect x="77.3" y="580" width="15.4" height="13" fill="#000"/>
<rect x="93.3" y="582.1" width="13.9" height="10.9" fill="#c6c6c6" stroke="#000" stroke-width="1.2"/>
<rect x="129.2" y="584.2" width="15.4" height="8.8" fill="#000"/>
<rect x="145.2" y="585.2" width="13.9" height="7.8" fill="#c6c6c6" stroke="#000" stroke-width="1.2"/>
<line x1="85" y1="571.5" x2="85" y2="580" stroke="#000" stroke-width="1.3"/>
<line x1="82" y1="571.5" x2="88" y2="571.5" stroke="#000" stroke-width="1.4"/>
<line x1="100.25" y1="577.4" x2="100.25" y2="586.2" stroke="#000" stroke-width="1.3"/>
<line x1="97.25" y1="577.4" x2="103.25" y2="577.4" stroke="#000" stroke-width="1.4"/>
<line x1="97.25" y1="586.2" x2="103.25" y2="586.2" stroke="#000" stroke-width="1.4"/>
<line x1="136.9" y1="582.3" x2="136.9" y2="584.2" stroke="#000" stroke-width="1.3"/>
<line x1="133.9" y1="582.3" x2="139.9" y2="582.3" stroke="#000" stroke-width="1.4"/>
<line x1="152.15" y1="582.3" x2="152.15" y2="587.2" stroke="#000" stroke-width="1.3"/>
<line x1="149.15" y1="582.3" x2="155.15" y2="582.3" stroke="#000" stroke-width="1.4"/>
<line x1="149.15" y1="587.2" x2="155.15" y2="587.2" stroke="#000" stroke-width="1.4"/>
<line x1="66.5" y1="529" x2="66.5" y2="593.6" stroke="#1a1a1a" stroke-width="1.15"/>
<line x1="65.9" y1="593" x2="171.2" y2="593" stroke="#111" stroke-width="1.3"/>
<line x1="64.9" y1="529.2" x2="67.7" y2="529.2" stroke="#111" stroke-width="1"/>
<text transform="translate(63.9,531.3) scale(1.12,1)" font-size="5.7" text-anchor="end" fill="#333" stroke="#333" stroke-width="0.1">10</text>
<line x1="64.9" y1="542" x2="67.7" y2="542" stroke="#111" stroke-width="1"/>
<text transform="translate(63.9,544.1) scale(1.12,1)" font-size="5.7" text-anchor="end" fill="#333" stroke="#333" stroke-width="0.1">8</text>
<line x1="64.9" y1="554.7" x2="67.7" y2="554.7" stroke="#111" stroke-width="1"/>
<text transform="translate(63.9,556.8) scale(1.12,1)" font-size="5.7" text-anchor="end" fill="#333" stroke="#333" stroke-width="0.1">6</text>
<line x1="64.9" y1="567.5" x2="67.7" y2="567.5" stroke="#111" stroke-width="1"/>
<text transform="translate(63.9,569.6) scale(1.12,1)" font-size="5.7" text-anchor="end" fill="#333" stroke="#333" stroke-width="0.1">4</text>
<line x1="64.9" y1="580.2" x2="67.7" y2="580.2" stroke="#111" stroke-width="1"/>
<text transform="translate(63.9,582.3) scale(1.12,1)" font-size="5.7" text-anchor="end" fill="#333" stroke="#333" stroke-width="0.1">2</text>
<line x1="64.9" y1="593" x2="67.7" y2="593" stroke="#111" stroke-width="1"/>
<text transform="translate(63.9,595.1) scale(1.12,1)" font-size="5.7" text-anchor="end" fill="#333" stroke="#333" stroke-width="0.1">0</text>
<line x1="118.8" y1="593" x2="118.8" y2="594.5" stroke="#111" stroke-width="1"/>
<line x1="235" y1="527.6" x2="340" y2="527.6" stroke="#444" stroke-width="1.0"/>
<line x1="235" y1="541" x2="340" y2="541" stroke="#444" stroke-width="1.0"/>
<line x1="235" y1="554.3" x2="340" y2="554.3" stroke="#444" stroke-width="1.0"/>
<line x1="235" y1="567.6" x2="340" y2="567.6" stroke="#444" stroke-width="1.0"/>
<line x1="235" y1="580.9" x2="340" y2="580.9" stroke="#444" stroke-width="1.0"/>
<rect x="246.5" y="585" width="17" height="9.2" fill="#000"/>
<rect x="264.1" y="584.8" width="14.6" height="9.4" fill="#c6c6c6" stroke="#000" stroke-width="1.2"/>
<rect x="303" y="585.8" width="17.8" height="8.4" fill="#000"/>
<rect x="321.4" y="587.1" width="14.6" height="7.1" fill="#c6c6c6" stroke="#000" stroke-width="1.2"/>
<line x1="255" y1="582.2" x2="255" y2="585" stroke="#000" stroke-width="1.3"/>
<line x1="252" y1="582.2" x2="258" y2="582.2" stroke="#000" stroke-width="1.4"/>
<line x1="271.4" y1="582.2" x2="271.4" y2="587.3" stroke="#000" stroke-width="1.3"/>
<line x1="268.4" y1="582.2" x2="274.4" y2="582.2" stroke="#000" stroke-width="1.4"/>
<line x1="268.4" y1="587.3" x2="274.4" y2="587.3" stroke="#000" stroke-width="1.4"/>
<line x1="311.9" y1="583.8" x2="311.9" y2="585.8" stroke="#000" stroke-width="1.3"/>
<line x1="308.9" y1="583.8" x2="314.9" y2="583.8" stroke="#000" stroke-width="1.4"/>
<line x1="328.7" y1="585.3" x2="328.7" y2="586.5" stroke="#000" stroke-width="1.3"/>
<line x1="325.7" y1="585.3" x2="331.7" y2="585.3" stroke="#000" stroke-width="1.4"/>
<line x1="235" y1="527.5" x2="235" y2="594.8" stroke="#1a1a1a" stroke-width="1.15"/>
<line x1="234.4" y1="594.2" x2="340" y2="594.2" stroke="#111" stroke-width="1.3"/>
<line x1="233.4" y1="527.6" x2="236.2" y2="527.6" stroke="#111" stroke-width="1"/>
<text transform="translate(232.4,529.7) scale(1.12,1)" font-size="5.7" text-anchor="end" fill="#333" stroke="#333" stroke-width="0.1">10</text>
<line x1="233.4" y1="541.2" x2="236.2" y2="541.2" stroke="#111" stroke-width="1"/>
<text transform="translate(232.4,543.3) scale(1.12,1)" font-size="5.7" text-anchor="end" fill="#333" stroke="#333" stroke-width="0.1">8</text>
<line x1="233.4" y1="554.5" x2="236.2" y2="554.5" stroke="#111" stroke-width="1"/>
<text transform="translate(232.4,556.6) scale(1.12,1)" font-size="5.7" text-anchor="end" fill="#333" stroke="#333" stroke-width="0.1">6</text>
<line x1="233.4" y1="567.6" x2="236.2" y2="567.6" stroke="#111" stroke-width="1"/>
<text transform="translate(232.4,569.7) scale(1.12,1)" font-size="5.7" text-anchor="end" fill="#333" stroke="#333" stroke-width="0.1">4</text>
<line x1="233.4" y1="581.2" x2="236.2" y2="581.2" stroke="#111" stroke-width="1"/>
<text transform="translate(232.4,583.3) scale(1.12,1)" font-size="5.7" text-anchor="end" fill="#333" stroke="#333" stroke-width="0.1">2</text>
<line x1="233.4" y1="594.2" x2="236.2" y2="594.2" stroke="#111" stroke-width="1"/>
<text transform="translate(232.4,596.3) scale(1.12,1)" font-size="5.7" text-anchor="end" fill="#333" stroke="#333" stroke-width="0.1">0</text>
<line x1="287.5" y1="594.2" x2="287.5" y2="595.7" stroke="#111" stroke-width="1"/>
<line x1="396.5" y1="527" x2="501.8" y2="527" stroke="#444" stroke-width="1.0"/>
<line x1="396.5" y1="540.4" x2="501.8" y2="540.4" stroke="#444" stroke-width="1.0"/>
<line x1="396.5" y1="553.6" x2="501.8" y2="553.6" stroke="#444" stroke-width="1.0"/>
<line x1="396.5" y1="567.2" x2="501.8" y2="567.2" stroke="#444" stroke-width="1.0"/>
<line x1="396.5" y1="580.4" x2="501.8" y2="580.4" stroke="#444" stroke-width="1.0"/>
<rect x="407.7" y="577" width="17.1" height="16.7" fill="#000"/>
<rect x="425.4" y="584.6" width="14.9" height="9.1" fill="#c6c6c6" stroke="#000" stroke-width="1.2"/>
<rect x="463.7" y="576" width="17" height="17.7" fill="#000"/>
<rect x="481.3" y="585.3" width="15.1" height="8.4" fill="#c6c6c6" stroke="#000" stroke-width="1.2"/>
<line x1="416.25" y1="563.8" x2="416.25" y2="577" stroke="#000" stroke-width="1.3"/>
<line x1="413.25" y1="563.8" x2="419.25" y2="563.8" stroke="#000" stroke-width="1.4"/>
<line x1="432.85" y1="582.3" x2="432.85" y2="587.4" stroke="#000" stroke-width="1.3"/>
<line x1="429.85" y1="582.3" x2="435.85" y2="582.3" stroke="#000" stroke-width="1.4"/>
<line x1="429.85" y1="587.4" x2="435.85" y2="587.4" stroke="#000" stroke-width="1.4"/>
<line x1="472.2" y1="565.7" x2="472.2" y2="576" stroke="#000" stroke-width="1.3"/>
<line x1="469.2" y1="565.7" x2="475.2" y2="565.7" stroke="#000" stroke-width="1.4"/>
<line x1="488.85" y1="581.3" x2="488.85" y2="587.7" stroke="#000" stroke-width="1.3"/>
<line x1="485.85" y1="581.3" x2="491.85" y2="581.3" stroke="#000" stroke-width="1.4"/>
<line x1="485.85" y1="587.7" x2="491.85" y2="587.7" stroke="#000" stroke-width="1.4"/>
<line x1="396.5" y1="527" x2="396.5" y2="594.3" stroke="#1a1a1a" stroke-width="1.15"/>
<line x1="395.9" y1="593.7" x2="501.8" y2="593.7" stroke="#111" stroke-width="1.3"/>
<line x1="394.9" y1="527" x2="397.7" y2="527" stroke="#111" stroke-width="1"/>
<text transform="translate(393.9,529.1) scale(1.12,1)" font-size="5.7" text-anchor="end" fill="#333" stroke="#333" stroke-width="0.1">10</text>
<line x1="394.9" y1="540.4" x2="397.7" y2="540.4" stroke="#111" stroke-width="1"/>
<text transform="translate(393.9,542.5) scale(1.12,1)" font-size="5.7" text-anchor="end" fill="#333" stroke="#333" stroke-width="0.1">8</text>
<line x1="394.9" y1="553.6" x2="397.7" y2="553.6" stroke="#111" stroke-width="1"/>
<text transform="translate(393.9,555.7) scale(1.12,1)" font-size="5.7" text-anchor="end" fill="#333" stroke="#333" stroke-width="0.1">6</text>
<line x1="394.9" y1="567.2" x2="397.7" y2="567.2" stroke="#111" stroke-width="1"/>
<text transform="translate(393.9,569.3) scale(1.12,1)" font-size="5.7" text-anchor="end" fill="#333" stroke="#333" stroke-width="0.1">4</text>
<line x1="394.9" y1="580.4" x2="397.7" y2="580.4" stroke="#111" stroke-width="1"/>
<text transform="translate(393.9,582.5) scale(1.12,1)" font-size="5.7" text-anchor="end" fill="#333" stroke="#333" stroke-width="0.1">2</text>
<line x1="394.9" y1="593.7" x2="397.7" y2="593.7" stroke="#111" stroke-width="1"/>
<text transform="translate(393.9,595.8) scale(1.12,1)" font-size="5.7" text-anchor="end" fill="#333" stroke="#333" stroke-width="0.1">0</text>
<line x1="449" y1="593.7" x2="449" y2="595.2" stroke="#111" stroke-width="1"/>
<text x="132" y="13" font-size="18" text-anchor="middle" font-style="italic" font-weight="normal" fill="#111" stroke="#111" stroke-width="0.3">pb4.2</text>
<text x="287.8" y="13" font-size="18" text-anchor="middle" font-style="italic" font-weight="normal" fill="#111" stroke="#111" stroke-width="0.3">eklf</text>
<text x="447.2" y="13" font-size="18" text-anchor="middle" font-style="italic" font-weight="normal" fill="#111" stroke="#111" stroke-width="0.3">gpa</text>
<line x1="46" y1="61.5" x2="173.8" y2="61.5" stroke="#111" stroke-width="1.4"/>
<line x1="57.5" y1="58.3" x2="57.5" y2="63.8" stroke="#111" stroke-width="1.3"/>
<text x="57.2" y="54.6" font-size="8.6" text-anchor="middle" font-weight="normal" fill="#111" stroke="#111" stroke-width="0.15">N</text>
<text x="66.6" y="73.6" font-size="8.2" text-anchor="end" font-weight="normal" fill="#111" stroke="#111" stroke-width="0.15">-6300</text>
<text x="42.5" y="73.8" font-size="8.2" text-anchor="middle" font-weight="normal" fill="#111" stroke="#111" stroke-width="0.15">~</text>
<line x1="74.25" y1="68.75" x2="87.5" y2="56.2" stroke="#fff" stroke-width="2.2"/>
<line x1="73.1" y1="67.9" x2="86.3" y2="55.5" stroke="#111" stroke-width="1.25"/>
<line x1="75.4" y1="69.6" x2="88.7" y2="56.9" stroke="#111" stroke-width="1.25"/>
<rect x="100.8" y="57.7" width="9" height="5.6" fill="#000"/>
<circle cx="115.6" cy="60.7" r="4.1" fill="#000"/>
<circle cx="142.9" cy="60.7" r="4.1" fill="#000"/>
<rect x="149.2" y="57.7" width="8.7" height="5.6" fill="#000"/>
<text x="109.5" y="42.3" font-size="9" text-anchor="middle" font-weight="normal" fill="#111" stroke="#111" stroke-width="0.15">aaCAGATGgt</text>
<line x1="82.9" y1="43.3" x2="111.7" y2="56.6" stroke="#111" stroke-width="0.9"/>
<line x1="135.8" y1="43.3" x2="119.3" y2="56.6" stroke="#111" stroke-width="0.9"/>
<text x="175.8" y="39.4" font-size="9.2" text-anchor="middle" font-weight="normal" fill="#111" stroke="#111" stroke-width="0.15">agCAGCTGgc</text>
<line x1="145" y1="40.4" x2="141.5" y2="55.2" stroke="#111" stroke-width="0.9"/>
<line x1="204" y1="40.8" x2="146.3" y2="55.6" stroke="#111" stroke-width="0.9"/>
<polyline points="163.8,61.5 173.8,61.5 173.8,52.9" fill="none" stroke="#111" stroke-width="1.4"/>
<line x1="173.1" y1="52.9" x2="183.7" y2="52.9" stroke="#111" stroke-width="1.4"/>
<polygon points="181.7,49.9 187.7,52.9 181.7,55.9" fill="#111"/>
<text x="109.8" y="73" font-size="8" text-anchor="middle" font-weight="normal" fill="#111" stroke="#111" stroke-width="0.15">-337-326</text>
<text x="146.8" y="73" font-size="8" text-anchor="middle" font-weight="normal" fill="#111" stroke="#111" stroke-width="0.15">-42 -29</text>
<line x1="95" y1="79.4" x2="160.8" y2="79.4" stroke="#111" stroke-width="1.2"/>
<text x="126.5" y="90.9" font-size="9.5" text-anchor="middle" font-weight="normal" fill="#111" stroke="#111" stroke-width="0.15">P</text>
<line x1="222.7" y1="61.5" x2="339.5" y2="61.5" stroke="#111" stroke-width="1.4"/>
<line x1="232.9" y1="58.3" x2="232.9" y2="63.8" stroke="#111" stroke-width="1.3"/>
<text x="232.9" y="55.4" font-size="8.6" text-anchor="middle" font-weight="normal" fill="#111" stroke="#111" stroke-width="0.15">N</text>
<text x="241.8" y="71.7" font-size="8.2" text-anchor="end" font-weight="normal" fill="#111" stroke="#111" stroke-width="0.15">-2200</text>
<text x="217.3" y="73.2" font-size="8.2" text-anchor="middle" font-weight="normal" fill="#111" stroke="#111" stroke-width="0.15">~</text>
<line x1="244.6" y1="67.1" x2="255.45" y2="57.5" stroke="#fff" stroke-width="2.2"/>
<line x1="243.5" y1="66.6" x2="254.3" y2="57.2" stroke="#111" stroke-width="1.25"/>
<line x1="245.7" y1="67.6" x2="256.6" y2="57.8" stroke="#111" stroke-width="1.25"/>
<rect x="265.4" y="58.1" width="9.2" height="5.4" fill="#000"/>
<circle cx="282.7" cy="61.3" r="4.1" fill="#000"/>
<rect x="291.5" y="58.1" width="9.1" height="5.4" fill="#000"/>
<text x="282.5" y="45.2" font-size="9" text-anchor="middle" font-weight="normal" fill="#111" stroke="#111" stroke-width="0.15">aaCATCTGgt</text>
<line x1="256" y1="46.2" x2="280" y2="57.7" stroke="#111" stroke-width="0.9"/>
<line x1="309.6" y1="46.2" x2="286.5" y2="56.9" stroke="#111" stroke-width="0.9"/>
<polyline points="329.5,61.5 339.5,61.5 339.5,52.7" fill="none" stroke="#111" stroke-width="1.4"/>
<line x1="338.8" y1="52.7" x2="351.5" y2="52.7" stroke="#111" stroke-width="1.4"/>
<polygon points="349.5,49.7 355.5,52.7 349.5,55.7" fill="#111"/>
<text x="269.5" y="72.2" font-size="8" text-anchor="middle" font-weight="normal" fill="#111" stroke="#111" stroke-width="0.15">-642</text>
<text x="295.8" y="72.2" font-size="8" text-anchor="middle" font-weight="normal" fill="#111" stroke="#111" stroke-width="0.15">-613</text>
<text x="281.6" y="79" font-size="8" text-anchor="middle" font-weight="normal" fill="#111" stroke="#111" stroke-width="0.15">-625</text>
<line x1="253.5" y1="82.6" x2="319.7" y2="82.6" stroke="#111" stroke-width="1.2"/>
<text x="285.8" y="94.8" font-size="9.5" text-anchor="middle" font-weight="normal" fill="#111" stroke="#111" stroke-width="0.15">P</text>
<line x1="381.7" y1="61.5" x2="502.7" y2="61.5" stroke="#111" stroke-width="1.4"/>
<line x1="398" y1="58.3" x2="398" y2="63.8" stroke="#111" stroke-width="1.3"/>
<text x="398" y="55.8" font-size="8.6" text-anchor="middle" font-weight="normal" fill="#111" stroke="#111" stroke-width="0.15">N</text>
<text x="406.8" y="71.7" font-size="8.2" text-anchor="end" font-weight="normal" fill="#111" stroke="#111" stroke-width="0.15">-2000</text>
<text x="381.5" y="72.9" font-size="8.2" text-anchor="middle" font-weight="normal" fill="#111" stroke="#111" stroke-width="0.15">~</text>
<line x1="410.95" y1="67.35" x2="421.85" y2="57.7" stroke="#fff" stroke-width="2.2"/>
<line x1="410" y1="66.5" x2="420.8" y2="57.2" stroke="#111" stroke-width="1.25"/>
<line x1="411.9" y1="68.2" x2="422.9" y2="58.2" stroke="#111" stroke-width="1.25"/>
<circle cx="433.7" cy="61.4" r="4.1" fill="#000"/>
<rect x="453.8" y="58.7" width="8.8" height="5.5" fill="#000"/>
<rect x="474.8" y="58.7" width="9.2" height="5.5" fill="#000"/>
<rect x="489.6" y="58.7" width="9.2" height="5.5" fill="#000"/>
<text x="434.8" y="45.8" font-size="9.2" text-anchor="middle" font-weight="normal" fill="#111" stroke="#111" stroke-width="0.15">tcCAGTTGag</text>
<line x1="407.3" y1="48" x2="430.8" y2="58.7" stroke="#111" stroke-width="0.9"/>
<line x1="462.5" y1="48" x2="436.5" y2="58.7" stroke="#111" stroke-width="0.9"/>
<polyline points="492.7,61.5 502.7,61.5 502.7,53.8" fill="none" stroke="#111" stroke-width="1.4"/>
<line x1="502" y1="53.8" x2="515.5" y2="53.8" stroke="#111" stroke-width="1.4"/>
<polygon points="513.5,50.8 519.5,53.8 513.5,56.8" fill="#111"/>
<text x="434.2" y="73" font-size="8" text-anchor="middle" font-weight="normal" fill="#111" stroke="#111" stroke-width="0.15">-267</text>
<text x="456" y="77.9" font-size="8" text-anchor="middle" font-weight="normal" fill="#111" stroke="#111" stroke-width="0.15">-135</text>
<text x="478.2" y="77.9" font-size="8" text-anchor="middle" font-weight="normal" fill="#111" stroke="#111" stroke-width="0.15">-70</text>
<text x="496.2" y="77.9" font-size="8" text-anchor="middle" font-weight="normal" fill="#111" stroke="#111" stroke-width="0.15">-30</text>
<line x1="430" y1="84.9" x2="496.9" y2="84.9" stroke="#111" stroke-width="1.2"/>
<text x="462.3" y="96.6" font-size="9.5" text-anchor="middle" font-weight="normal" fill="#111" stroke="#111" stroke-width="0.15">P</text>
<text x="93" y="112" font-size="11.5" fill="#111" stroke="#111" stroke-width="0.3">(</text>
<path d="M102.2,101.5 L102.2,109" fill="none" stroke="#111" stroke-width="2.3"/><polygon points="97.8,107.8 106.6,107.8 102.2,115.6" fill="#111"/>
<text x="107.4" y="111.9" font-size="11.8" fill="#111" stroke="#111" stroke-width="0.3">12.7 fold)</text>
<text x="257.3" y="112.2" font-size="11.8" fill="#111" stroke="#111" stroke-width="0.3">(</text>
<path d="M267.9,102.2 L267.9,109.5" fill="none" stroke="#111" stroke-width="2.3"/><polygon points="263.6,108.3 272.2,108.3 267.9,116.5" fill="#111"/>
<text x="273.3" y="111.9" font-size="12.1" fill="#111" stroke="#111" stroke-width="0.3">2.5 fold)</text>
<text x="448.8" y="112.5" font-size="11.5" text-anchor="middle" font-weight="normal" fill="#111" stroke="#111" stroke-width="0.3">(-)</text>
<rect x="2.3" y="89.8" width="22.5" height="6.4" fill="#000"/>
<rect x="2.3" y="103.1" width="22.5" height="6.4" fill="#c4c4c4"/>
<text x="28.8" y="97" font-size="7.7" text-anchor="start" font-weight="normal" fill="#111" stroke="#111" stroke-width="0.15">Wt/Wt</text>
<text x="28.8" y="109.9" font-size="7.7" text-anchor="start" font-weight="normal" fill="#111" stroke="#111" stroke-width="0.15">RER/RER</text>
<text x="29.9" y="163.6" font-size="12" text-anchor="start" font-weight="normal" fill="#111" stroke="#111" stroke-width="0.3">SCL</text>
<text x="31.2" y="241.6" font-size="12" text-anchor="start" font-weight="normal" fill="#111" stroke="#111" stroke-width="0.3">E2A</text>
<text x="17.3" y="305.7" font-size="12" text-anchor="start" font-weight="normal" fill="#111" stroke="#111" stroke-width="0.3">LDB-1</text>
<text x="22.8" y="397.1" font-size="12" text-anchor="start" font-weight="normal" fill="#111" stroke="#111" stroke-width="0.3">POLII</text>
<text x="23.8" y="478.6" font-size="12" text-anchor="start" font-weight="normal" fill="#111" stroke="#111" stroke-width="0.3">AcH3</text>
<text transform="translate(10.2,276) rotate(-90)" font-size="12" text-anchor="middle" fill="#111" stroke="#111" stroke-width="0.3">partners of SCL</text>
<line x1="12.8" y1="198.4" x2="12.8" y2="344.7" stroke="#111" stroke-width="1.3"/>
<text transform="translate(51.5,561) rotate(-90)" font-size="12" text-anchor="middle" fill="#111" stroke="#111" stroke-width="0.3">no antibody</text>
<text x="91.5" y="610.8" font-size="14" text-anchor="middle" font-weight="normal" fill="#111" stroke="#111" stroke-width="0.3">P</text>
<text x="146.5" y="610.8" font-size="14" text-anchor="middle" font-weight="normal" fill="#111" stroke="#111" stroke-width="0.3">N</text>
<text x="262.8" y="610.8" font-size="14" text-anchor="middle" font-weight="normal" fill="#111" stroke="#111" stroke-width="0.3">P</text>
<text x="320" y="610.8" font-size="14" text-anchor="middle" font-weight="normal" fill="#111" stroke="#111" stroke-width="0.3">N</text>
<text x="424.5" y="610.8" font-size="14" text-anchor="middle" font-weight="normal" fill="#111" stroke="#111" stroke-width="0.3">P</text>
<text x="480.2" y="610.8" font-size="14" text-anchor="middle" font-weight="normal" fill="#111" stroke="#111" stroke-width="0.3">N</text>
</svg>
</body></html>
